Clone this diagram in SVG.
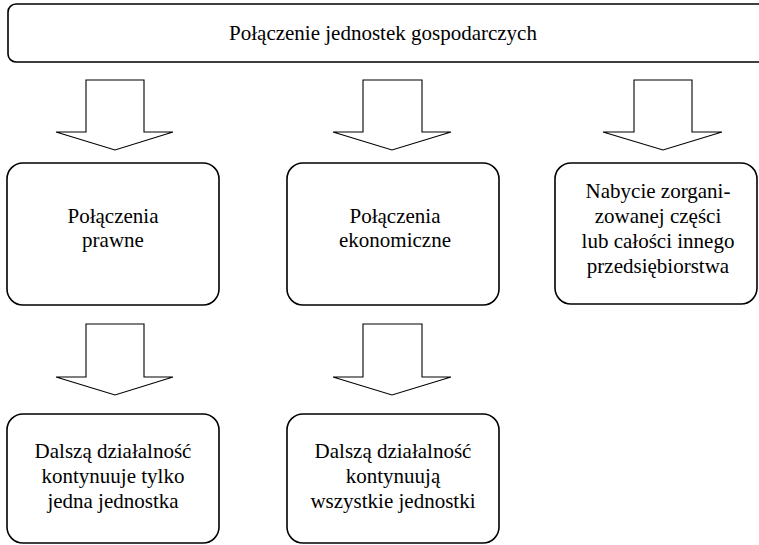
<svg xmlns="http://www.w3.org/2000/svg" width="759" height="545" viewBox="0 0 759 545" font-family="Liberation Serif, Times New Roman, serif" font-size="21">
<style>
.box{fill:#fff;stroke:#000;stroke-width:1.6}
.arr{fill:#fff;stroke:#000;stroke-width:1.1;stroke-linejoin:miter}
</style>
<rect width="759" height="545" fill="#fff"/>
<g id="top">
<rect class="box" x="8" y="4" width="770" height="58" rx="8"/>
<text x="383" y="40" text-anchor="middle">Połączenie jednostek gospodarczych</text>
</g>
<g id="connectors">
<polygon class="arr" points="86,80 144,80 144,132 173,132 115,150 56,132 86,132"/>
<polygon class="arr" points="363,80 422,80 422,132 451,132 392,150 333,132 363,132"/>
<polygon class="arr" points="634,80 692,80 692,132 722,132 663,150 603,132 634,132"/>
<polygon class="arr" points="86,324 144,324 144,377 173,377 115,395 56,377 86,377"/>
<polygon class="arr" points="363,324 422,324 422,377 451,377 392,395 333,377 363,377"/>
</g>
<g id="prawne" text-anchor="middle">
<rect class="box" x="7" y="163" width="212" height="142" rx="16"/>
<text x="113" y="223">Połączenia</text>
<text x="113" y="247">prawne</text>
</g>
<g id="ekonomiczne" text-anchor="middle">
<rect class="box" x="287" y="163" width="212" height="142" rx="16"/>
<text x="395" y="223">Połączenia</text>
<text x="395" y="247">ekonomiczne</text>
</g>
<g id="nabycie" text-anchor="middle">
<rect class="box" x="555" y="163" width="202" height="141" rx="16"/>
<text x="658" y="198">Nabycie zorgani-</text>
<text x="658" y="223">zowanej części</text>
<text x="658" y="248">lub całości innego</text>
<text x="658" y="273">przedsiębiorstwa</text>
</g>
<g id="jedna" text-anchor="middle">
<rect class="box" x="7" y="414" width="212" height="129" rx="16"/>
<text x="113" y="458">Dalszą działalność</text>
<text x="113" y="483">kontynuuje tylko</text>
<text x="113" y="508">jedna jednostka</text>
</g>
<g id="wszystkie" text-anchor="middle">
<rect class="box" x="287" y="414" width="212" height="129" rx="16"/>
<text x="393" y="458">Dalszą działalność</text>
<text x="393" y="483">kontynuują</text>
<text x="393" y="508">wszystkie jednostki</text>
</g>
</svg>
